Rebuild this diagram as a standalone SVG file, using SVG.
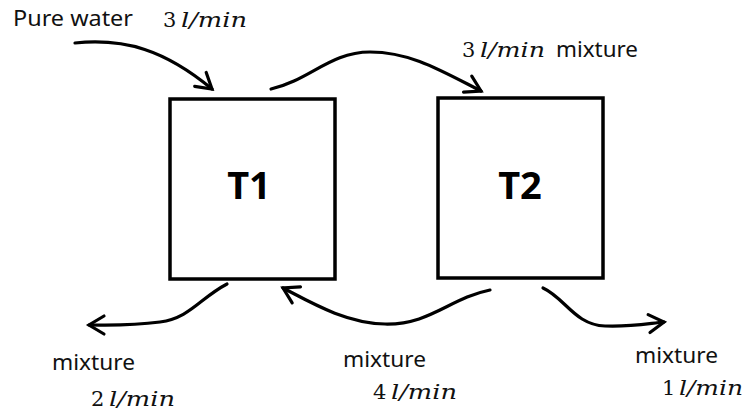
<svg xmlns="http://www.w3.org/2000/svg" width="747" height="412" viewBox="0 0 747 412">
<defs>
<style>
.box{fill:#fff;stroke:#000;stroke-width:3.5}
.tank{font-family:"Noto Sans","Open Sans",sans-serif;font-weight:bold;font-size:38px;fill:#000;text-anchor:middle}
.lbl{font-family:"Noto Sans","Open Sans",sans-serif;font-size:21px;fill:#111}
.math{font-family:"DejaVu Serif","Liberation Serif",serif;font-size:21px;fill:#111}
.it{font-style:italic}
.conn{fill:none;stroke:#000;stroke-width:3.2;stroke-linecap:round;marker-end:url(#chev)}
</style>
<marker id="chev" markerUnits="userSpaceOnUse" markerWidth="30" markerHeight="30" viewBox="-20 -15 30 30" refX="0" refY="0" orient="auto">
<path d="M-15,-9 L0,0 L-15,9" fill="none" stroke="#000" stroke-width="3.2" stroke-linecap="round" stroke-linejoin="miter"/>
</marker>
</defs>
<rect width="747" height="412" fill="#fff"/>
<g id="T1">
<rect class="box" x="170" y="99" width="165" height="180"/>
<text class="tank" x="249" y="199">T1</text>
</g>
<g id="T2">
<rect class="box" x="438" y="98" width="165" height="180"/>
<text class="tank" x="520" y="199">T2</text>
</g>
<g id="connectors">
<path class="conn" d="M75,43 C125,38 165,50 212,89"/>
<path class="conn" d="M271,89 C310,80 330,52 370,52 C410,52 440,70 481,91"/>
<path class="conn" d="M227,284 C200,298 190,318 160,322 C130,326 110,325 89,325"/>
<path class="conn" d="M490,290 C450,298 430,325 385,324 C345,323 310,302 283,288"/>
<path class="conn" d="M543,288 C565,298 575,325 605,326 C630,327 645,324 664,322"/>
</g>
<g id="labels">
<text class="lbl" x="13" y="26" textLength="120" lengthAdjust="spacingAndGlyphs">Pure water</text>
<text class="math"><tspan x="163" y="27">3</tspan><tspan class="it" x="181" y="27" textLength="66" lengthAdjust="spacingAndGlyphs">l/min</tspan></text>
<text class="math"><tspan x="462" y="57">3</tspan><tspan class="it" x="480" y="57" textLength="65" lengthAdjust="spacingAndGlyphs">l/min</tspan></text>
<text class="lbl" x="556" y="57" textLength="82" lengthAdjust="spacingAndGlyphs">mixture</text>
<text class="lbl" x="52" y="370" textLength="83" lengthAdjust="spacingAndGlyphs">mixture</text>
<text class="math"><tspan x="91" y="406">2</tspan><tspan class="it" x="109" y="406" textLength="66" lengthAdjust="spacingAndGlyphs">l/min</tspan></text>
<text class="lbl" x="343" y="367" textLength="83" lengthAdjust="spacingAndGlyphs">mixture</text>
<text class="math"><tspan x="373" y="399">4</tspan><tspan class="it" x="391" y="399" textLength="66" lengthAdjust="spacingAndGlyphs">l/min</tspan></text>
<text class="lbl" x="635" y="363" textLength="83" lengthAdjust="spacingAndGlyphs">mixture</text>
<text class="math"><tspan x="662" y="395">1</tspan><tspan class="it" x="679" y="395" textLength="64" lengthAdjust="spacingAndGlyphs">l/min</tspan></text>
</g>
</svg>
